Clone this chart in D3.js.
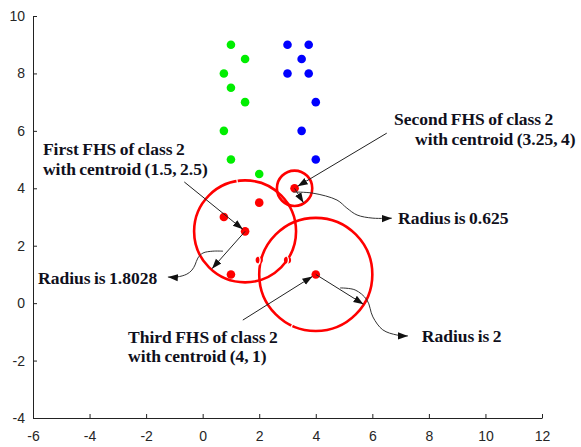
<!DOCTYPE html>
<html>
<head>
<meta charset="utf-8">
<script src="https://cdn.jsdelivr.net/npm/d3@7"></script>
<style>
  body { margin: 0; background: #fff; }
  svg { display: block; }
  .tick text { font-family: "Liberation Sans", Arial, sans-serif; font-size: 14px; fill: #262626; }
  .note { font-family: "Liberation Serif", "Times New Roman", serif; font-weight: bold; font-size: 17.5px; fill: #10101c; word-spacing: -1px; }
</style>
</head>
<body>
<div id="chart"></div>
<script>
// class points
const greenPts = [[1, 9], [1.5, 8.5], [0.75, 8], [1, 7.5], [1.5, 7], [0.75, 6], [1, 5], [2, 4.5]]
const bluePts = [[3, 9], [3.75, 9], [3.5, 8.5], [3, 8], [3.75, 8], [4, 7], [3.5, 6], [4, 5]]
const redPts = [[3.25, 4], [2, 3.5], [0.75, 3], [1.5, 2.5], [1, 1], [4, 1]]
const redHidden = [[2, 1.5], [3, 1.5]]

// FHS hyperspheres of class 2
const fhsCenters = [[1.5, 2.5], [3.25, 4], [4, 1]]
const fhsRadii = [1.8028, 0.625, 2]

const xTicks = [-6, -4, -2, 0, 2, 4, 6, 8, 10, 12]
const yTicks = [-4, -2, 0, 2, 4, 6, 8, 10]

const width = 581, height = 447
const margin = {left: 33, right: 39, top: 16, bottom: 29}

const svg = d3.select("#chart").append("svg")
    .attr("width", width)
    .attr("height", height)

const x = d3.scaleLinear().domain([-6, 12]).range([margin.left, width - margin.right])
const y = d3.scaleLinear().domain([-4, 10]).range([height - margin.bottom, margin.top])

// axes (matlab style, box off, ticks inward)
svg.append("g")
    .attr("transform", `translate(0,${y(-4)})`)
    .call(d3.axisBottom(x).tickValues(xTicks).tickSizeInner(-4).tickSizeOuter(0).tickPadding(13).tickFormat(d3.format("d")))
    .call(g => g.selectAll(".domain, line").attr("stroke", "#222"))

svg.append("g")
    .attr("transform", `translate(${x(-6)},0)`)
    .call(d3.axisLeft(y).tickValues(yTicks).tickSizeInner(-4).tickSizeOuter(0).tickPadding(8).tickFormat(d3.format("d")))
    .call(g => g.selectAll(".domain, line").attr("stroke", "#222"))

svg.selectAll(".tick text").text(d => d < 0 ? "-" + Math.abs(d) : d)

// arrow marker
svg.append("defs").append("marker")
    .attr("id", "head")
    .attr("markerUnits", "userSpaceOnUse")
    .attr("markerWidth", 12).attr("markerHeight", 10)
    .attr("viewBox", "0 -5 12 10")
    .attr("refX", 10).attr("refY", 0)
    .attr("orient", "auto")
    .append("path")
    .attr("d", "M0,-3.6L10,0L0,3.6Z")
    .attr("fill", "#111")

// circles
const circ = svg.append("g")
circ.selectAll("circle")
    .data(fhsCenters)
    .join("circle")
    .attr("cx", d => x(d[0]))
    .attr("cy", d => y(d[1]))
    .attr("r", (d, i) => x(fhsRadii[i]) - x(0))
    .attr("fill", "none")
    .attr("stroke", "#ff0000")
    .attr("stroke-width", 2.6)

// small white gaps seen on the circles
const gaps = [[0, 99], [2, 245]]
gaps.forEach(([i, a]) => {
    const r = x(fhsRadii[i]) - x(0), rad = a * Math.PI / 180
    const cx = x(fhsCenters[i][0]) + r * Math.cos(rad), cy = y(fhsCenters[i][1]) - r * Math.sin(rad)
    circ.append("line")
        .attr("x1", cx - 3 * Math.cos(rad)).attr("y1", cy + 3 * Math.sin(rad))
        .attr("x2", cx + 3 * Math.cos(rad)).attr("y2", cy - 3 * Math.sin(rad))
        .attr("stroke", "#fff").attr("stroke-width", 1.2)
})

// points
const dots = svg.append("g")
const drawDots = (pts, color) => dots.append("g").selectAll("circle")
    .data(pts)
    .join("circle")
    .attr("cx", d => x(d[0]))
    .attr("cy", d => y(d[1]))
    .attr("r", 4.3)
    .attr("fill", color)
drawDots(greenPts, "#00ee00")
drawDots(bluePts, "#0000ff")
drawDots(redPts, "#ff0000")
drawDots(redHidden, "#ff0000")
    .attr("r", 3.6)
dots.append("g").selectAll("path")
    .data(redHidden)
    .join("path")
    .attr("d", d => `M${x(d[0]) - 1},${y(d[1]) - 5}Q${x(d[0]) + 3},${y(d[1])} ${x(d[0]) - 1},${y(d[1]) + 5}`)
    .attr("fill", "none")
    .attr("stroke", "#fff")
    .attr("stroke-width", 1.3)

// annotations
const ann = svg.append("g")
const line = d3.line().x(d => x(d[0])).y(d => y(d[1])).curve(d3.curveCatmullRom)

const straight = [
    [[-0.65, 4.22], [1.42, 2.57]],
    [[6.51, 5.92], [3.36, 4.07]],
    [[1.42, -0.59], [3.88, 0.93]]
]
ann.selectAll(".s").data(straight).join("path")
    .attr("d", d => line(d))
    .attr("fill", "none").attr("stroke", "#222").attr("stroke-width", 1)
    .attr("marker-end", "url(#head)")

// radius arrows: angle (deg) of each radius line
const radAngles = [-132, -58, -31.6]
const radLen = [0.97, 0.95, 0.99]
ann.selectAll(".r").data(fhsCenters).join("path")
    .attr("d", (d, i) => {
        const a = radAngles[i] * Math.PI / 180, L = fhsRadii[i] * radLen[i]
        return line([d, [d[0] + L * Math.cos(a), d[1] + L * Math.sin(a)]])
    })
    .attr("fill", "none").attr("stroke", "#222").attr("stroke-width", 1)
    .attr("marker-end", "url(#head)")

const curves = [
    [[0.72, 1.81], [0.36, 1.81], [0.01, 1.745], [-0.17, 1.57], [-0.27, 1.33], [-0.38, 1.15], [-0.56, 1.01], [-0.91, 0.91], [-1.23, 0.91]],
    [[3.19, 3.87], [3.9, 3.83], [4.75, 3.59], [5.1, 3.31], [5.46, 3.07], [6.02, 2.96], [6.69, 2.96]],
    [[4.86, 0.53], [5.39, 0.46], [5.81, 0.11], [6.02, -0.48], [6.37, -0.93], [6.87, -1.11], [7.26, -1.14]]
]
ann.selectAll(".c").data(curves).join("path")
    .attr("d", d => line(d))
    .attr("fill", "none").attr("stroke", "#333").attr("stroke-width", 1)
    .attr("marker-end", "url(#head)")

const notes = [
    {t: "First FHS of class 2", p: [-5.65, 5.16]},
    {t: "with centroid (1.5, 2.5)", p: [-5.65, 4.46]},
    {t: "Radius is 1.8028", p: [-5.82, 0.665]},
    {t: "Second FHS of class 2", p: [6.765, 6.2]},
    {t: "with centroid (3.25, 4)", p: [7.51, 5.51]},
    {t: "Radius is 0.625", p: [6.91, 2.755]},
    {t: "Third FHS of class 2", p: [-2.64, -1.39]},
    {t: "with centroid (4, 1)", p: [-2.64, -2.05]},
    {t: "Radius is 2", p: [7.75, -1.355]}
]
ann.selectAll("text").data(notes).join("text")
    .attr("class", "note")
    .attr("x", d => x(d.p[0]))
    .attr("y", d => y(d.p[1]))
    .text(d => d.t)
</script>
</body>
</html>
